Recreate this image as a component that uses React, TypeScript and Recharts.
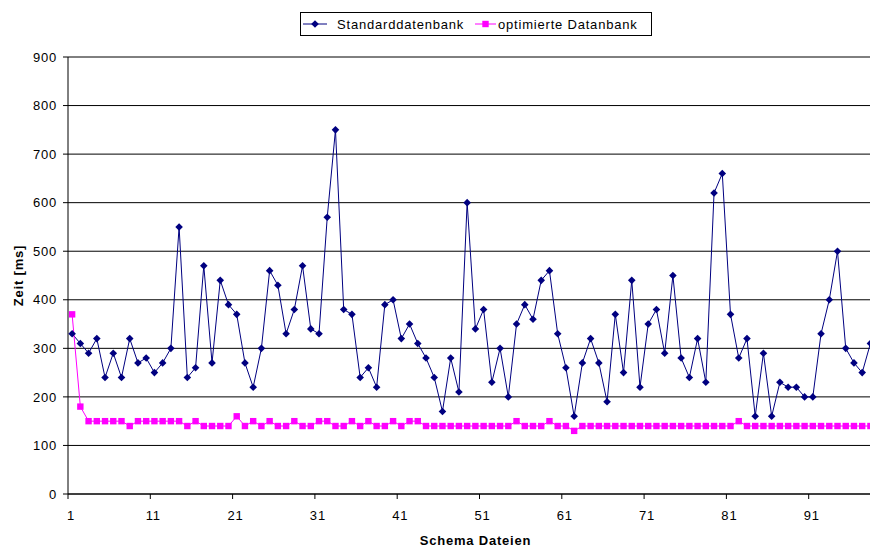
import React from "react";
import {
  CartesianGrid,
  Label,
  Line,
  LineChart,
  XAxis,
  YAxis,
} from "recharts";

// Messwerte je Schema-Datei (ms), Dateien 1..98
const STANDARD = [
  330, 310, 290, 320, 240, 290, 240, 320, 270, 280, 250, 270, 300, 550, 240, 260, 470, 270,
  440, 390, 370, 270, 220, 300, 460, 430, 330, 380, 470, 340, 330, 570, 750, 380, 370,
  240, 260, 220, 390, 400, 320, 350, 310, 280, 240, 170, 280, 210, 600, 340, 380, 230,
  300, 200, 350, 390, 360, 440, 460, 330, 260, 160, 270, 320, 270, 190, 370, 250, 440,
  220, 350, 380, 290, 450, 280, 240, 320, 230, 620, 660, 370, 280, 320, 160, 290, 160,
  230, 220, 220, 200, 200, 330, 400, 500, 300, 270, 250, 310,
];

const OPTIMIERT = [
  370, 180, 150, 150, 150, 150, 150, 140, 150, 150, 150, 150, 150, 150, 140, 150, 140,
  140, 140, 140, 160, 140, 150, 140, 150, 140, 140, 150, 140, 140, 150, 150, 140, 140, 150,
  140, 150, 140, 140, 150, 140, 150, 150, 140, 140, 140, 140, 140, 140, 140, 140, 140,
  140, 140, 150, 140, 140, 140, 150, 140, 140, 130, 140, 140, 140, 140, 140, 140, 140,
  140, 140, 140, 140, 140, 140, 140, 140, 140, 140, 140, 140, 150, 140, 140, 140, 140,
  140, 140, 140, 140, 140, 140, 140, 140, 140, 140, 140, 140,
];

// tick marks sit between categories (x.5), labels show the following file number
const X_TICKS = [0.5, 10.5, 20.5, 30.5, 40.5, 50.5, 60.5, 70.5, 80.5, 90.5];
const Y_TICKS = [0, 100, 200, 300, 400, 500, 600, 700, 800, 900];

const NAVY = "#000080";
const MAGENTA = "#ff00ff";
const FONT = "'Liberation Sans', Arial, sans-serif";
const TEXT = { fontFamily: FONT, fontSize: 13, letterSpacing: 0.8, fill: "#000" };

const rows = STANDARD.map((s, i) => ({
  datei: i + 1,
  standard: s,
  optimiert: OPTIMIERT[i],
}));

function diamond(props: any) {
  const { cx, cy, index } = props;
  if (cx == null || cy == null) return <g key={`sd-${index}`} />;
  const r = 3.8;
  return (
    <path
      key={`sd-${index}`}
      d={`M${cx},${cy - r}L${cx + r},${cy}L${cx},${cy + r}L${cx - r},${cy}Z`}
      fill={NAVY}
    />
  );
}

function square(props: any) {
  const { cx, cy, index } = props;
  if (cx == null || cy == null) return <g key={`op-${index}`} />;
  const h = 3.2;
  return <rect key={`op-${index}`} x={cx - h} y={cy - h} width={h * 2} height={h * 2} fill={MAGENTA} />;
}

function XTick({ x, y, payload }: any) {
  return (
    <text x={x + 3} y={y} dy="0.71em" textAnchor="middle" style={TEXT}>
      {payload.value + 0.5}
    </text>
  );
}

function Legende() {
  return (
    <svg
      width={352}
      height={24}
      style={{ position: "absolute", left: 300, top: 12, overflow: "visible" }}
    >
      <rect x={0.5} y={0.5} width={351} height={23} fill="#fff" stroke="#000" />
      <line x1={3} x2={27} y1={12} y2={12} stroke={NAVY} />
      <path d="M15,8.2L18.8,12L15,15.8L11.2,12Z" fill={NAVY} />
      <text x={37} y={16.5} style={TEXT}>
        Standarddatenbank
      </text>
      <line x1={175} x2={196} y1={12} y2={12} stroke={MAGENTA} />
      <rect x={182.3} y={8.8} width={6.4} height={6.4} fill={MAGENTA} />
      <text x={198} y={16.5} style={TEXT}>
        optimierte Datanbank
      </text>
    </svg>
  );
}

export default function App() {
  return (
    <div
      style={{
        position: "absolute",
        left: 0,
        top: 0,
        width: 870,
        height: 547,
        overflow: "hidden",
        background: "#fff",
      }}
    >
      <LineChart width={891} height={547} data={rows} margin={{ top: 57, right: 0, bottom: 0, left: 0 }}>
        <CartesianGrid vertical={false} stroke="#000" />
        <XAxis
          type="number"
          dataKey="datei"
          domain={[0.5, 100.5]}
          ticks={X_TICKS}
          allowDataOverflow
          height={53}
          tick={<XTick />}
          tickSize={5}
          tickMargin={12}
          axisLine={{ stroke: "#000" }}
          tickLine={{ stroke: "#000" }}
        >
          <Label
            value="Schema Dateien"
            position="insideBottom"
            offset={2}
            dx={-4}
            style={{ ...TEXT, fontWeight: "bold" }}
          />
        </XAxis>
        <YAxis
          domain={[0, 900]}
          ticks={Y_TICKS}
          width={68}
          tickSize={5}
          tickMargin={6}
          tick={TEXT}
          axisLine={{ stroke: "#000" }}
          tickLine={{ stroke: "#000" }}
        >
          <Label
            content={({ viewBox }: any) => (
              <text
                transform={`translate(18, ${viewBox.y + viewBox.height / 2}) rotate(-90)`}
                textAnchor="middle"
                dominantBaseline="central"
                style={{ ...TEXT, fontWeight: "bold" }}
              >
                Zeit [ms]
              </text>
            )}
          />
        </YAxis>
        <Line
          type="linear"
          dataKey="standard"
          name="Standarddatenbank"
          stroke={NAVY}
          strokeWidth={1}
          dot={diamond}
          activeDot={false}
          isAnimationActive={false}
        />
        <Line
          type="linear"
          dataKey="optimiert"
          name="optimierte Datanbank"
          stroke={MAGENTA}
          strokeWidth={1}
          dot={square}
          activeDot={false}
          isAnimationActive={false}
        />
      </LineChart>
      <Legende />
    </div>
  );
}
